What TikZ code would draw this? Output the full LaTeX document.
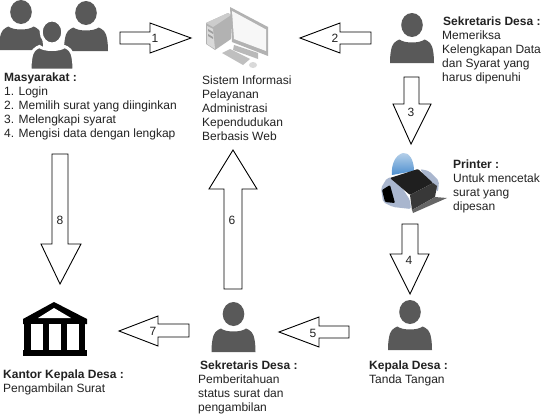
\documentclass[tikz,border=0pt]{standalone}
\usepackage{fontspec}
\setmainfont{Liberation Sans}
\definecolor{persongray}{HTML}{595959}
\definecolor{txt}{HTML}{222222}
\definecolor{housing}{HTML}{A9B6CE}
\definecolor{domelight}{HTML}{B9D2EA}
\definecolor{domedark}{HTML}{4D8FCF}
\tikzset{
  blockarrow/.style={draw=black,line width=0.9pt,fill=white,line join=miter},
  numlabel/.style={inner sep=0,font=\fontsize{12}{14}\selectfont,text=txt},
  textblock/.style={anchor=north west,inner sep=0,align=left,font=\fontsize{12}{14}\selectfont,text=txt},
  personfill/.style={fill=persongray,draw=none},
  halo/.style={fill=persongray,draw=white,line width=3pt},
}
\newcommand{\personicon}[3]{%
  \begin{scope}[shift={(#1,#2)}]
    \path[#3] (0,0) ellipse [x radius=10.8,y radius=12];
    \path[#3] (-22,38) .. controls (-22,30) and (-21,21) .. (-18,18)
      .. controls (-16,16) and (-14,15) .. (-12.5,14.5)
      .. controls (-8,18.5) and (8,18.5) .. (12.5,14.5)
      .. controls (14,15) and (16,16) .. (18,18)
      .. controls (21,21) and (22,30) .. (22,38) -- cycle;
  \end{scope}}
\begin{document}
\begin{tikzpicture}[x=1pt,y=-1pt]
\path[fill=white,use as bounding box] (0,0) rectangle (551,415);
% people
\personicon{21}{12}{personfill}
\personicon{86}{13}{personfill}
\personicon{52}{32}{halo}
\personicon{412}{25}{personfill}
\personicon{233.5}{314}{personfill}
\personicon{410}{312}{personfill}
% computer
\fill[gray!60] (206,23) -- (228,13) -- (231,15) -- (231,39) -- (215,50) -- (206,44) -- cycle;
\fill[gray!40] (206,23) -- (228,13) -- (231,15) -- (213,27) -- cycle;
\fill[gray!30] (207,26) -- (213,29) -- (215,49) -- (207,44) -- cycle;
\fill[gray!75] (208,29) -- (213,32) -- (213,34) -- (208,31) -- cycle;
\fill[gray!75] (208,34) -- (213,37) -- (213,39) -- (208,36) -- cycle;
\fill[gray!55] (234,45) -- (258,53) -- (258,59) -- (233,50) -- cycle;
\fill[gray!60] (230,7) -- (268,27) -- (268,56) -- (232,42) -- cycle;
\fill[gray!6] (232,11) -- (266,29.5) -- (266,51) -- (234,39) -- cycle;
\fill[gray!50] (222,53) -- (230,49) -- (250,59) -- (243,65) -- cycle;
\fill[gray!30] (253,65) ellipse [x radius=4,y radius=3];
% printer
\shade[top color=domelight,bottom color=domedark] (392,175) .. controls (391,165) and (395,155) .. (403,153)
  .. controls (409,152) and (414,160) .. (414,171) -- cycle;
\fill[housing,rounded corners=2pt] (381,188) -- (387,178) -- (395,177) -- (410,200) -- (411,209) -- (393,207) -- (383,202) -- cycle;
\fill[black,rounded corners=1pt] (382,190) -- (390,185) -- (395,203) -- (385,202) -- cycle;
\fill[housing,rounded corners=2pt] (420,169) -- (429,171) -- (439,181) -- (438,192) -- (432,186) -- cycle;
\fill[black!88,rounded corners=1pt] (390,178) -- (418,169) -- (433,183) -- (410,195) -- cycle;
\fill[black!78] (410,195) -- (433,183) -- (437,186) -- (435,197) -- (412,210) -- cycle;
\fill[black!60] (412,210) -- (435,197) -- (447,198) -- (413,213) -- cycle;
% building
\fill[black] (54,302) -- (87,319) -- (87,324) -- (23,324) -- (23,319) -- cycle;
\fill[white] (54,308) -- (71,318) -- (38,318) -- cycle;
\fill[black] (24,324) rectangle (85,350);
\fill[white] (31,324) rectangle (43,350);
\fill[white] (49,324) rectangle (61,350);
\fill[white] (67,324) rectangle (79,350);
\fill[black] (23,350) rectangle (87,356);
% block arrows
\draw[blockarrow] (120,32) -- (150,32) -- (150,23) -- (191,38) -- (150,53) -- (150,44) -- (120,44) -- cycle;
\draw[blockarrow] (371,32) -- (340,32) -- (340,23) -- (300,38) -- (340,53) -- (340,44) -- (371,44) -- cycle;
\draw[blockarrow] (404,77) -- (419,77) -- (419,104) -- (431,104) -- (411,144) -- (393,104) -- (404,104) -- cycle;
\draw[blockarrow] (402,224) -- (418,224) -- (418,254) -- (429,254) -- (410,294) -- (390,254) -- (402,254) -- cycle;
\draw[blockarrow] (349,326) -- (319,326) -- (319,317) -- (279,332) -- (319,347) -- (319,338) -- (349,338) -- cycle;
\draw[blockarrow] (224,289) -- (224,189) -- (209,189) -- (233,150) -- (257,189) -- (242,189) -- (242,289) -- cycle;
\draw[blockarrow] (189,324) -- (158,324) -- (158,316) -- (119,331) -- (158,346) -- (158,337) -- (189,337) -- cycle;
\draw[blockarrow] (52,154) -- (68,154) -- (68,244) -- (81,244) -- (60,284) -- (41,244) -- (52,244) -- cycle;
% numbers
\node[numlabel] (n1) at (155,38) {1};
\node[numlabel] (n2) at (335,38) {2};
\node[numlabel] (n3) at (411,112) {3};
\node[numlabel] (n4) at (409,260) {4};
\node[numlabel] (n5) at (313,333) {5};
\node[numlabel] (n6) at (232,220) {6};
\node[numlabel] (n7) at (153,331) {7};
\node[numlabel] (n8) at (60,220) {8};
% texts
\node[textblock] (warga) at (4,73) {\textbf{Masyarakat :}\\1. Login\\2. Memilih surat yang diinginkan\\3. Melengkapi syarat\\4. Mengisi data dengan lengkap};
\node[textblock] (sistem) at (202,75.5) {Sistem Informasi\\Pelayanan\\Administrasi\\Kependudukan\\Berbasis Web};
\node[textblock] (sek1) at (442,17) {\hspace*{1pt}\textbf{Sekretaris Desa :}\\Memeriksa\\Kelengkapan Data\\dan Syarat yang\\harus dipenuhi};
\node[textblock] (printer) at (453,160) {\textbf{Printer :}\\Untuk mencetak\\surat yang\\dipesan};
\node[textblock] (kantor) at (3,370) {\textbf{Kantor Kepala Desa :}\\Pengambilan Surat};
\node[textblock] (sek2) at (198,361) {\hspace*{2pt}\textbf{Sekretaris Desa :}\\Pemberitahuan\\status surat dan\\pengambilan};
\node[textblock] (kepala) at (369,361) {\textbf{Kepala Desa :}\\Tanda Tangan};
\end{tikzpicture}
\end{document}
